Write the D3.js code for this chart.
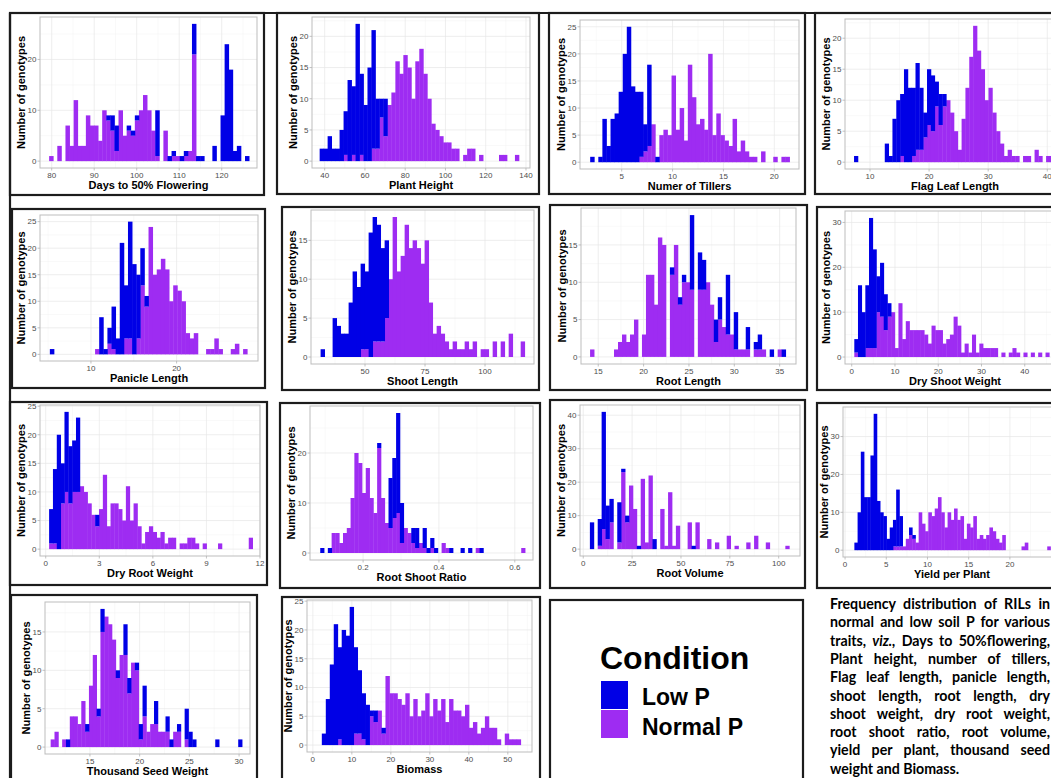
<!DOCTYPE html>
<html>
<head>
<meta charset="utf-8">
<script src="https://cdn.jsdelivr.net/npm/d3@7"></script>
<style>
body { margin: 0; background: #fff; overflow: hidden; }
svg { display: block; font-family: "Liberation Sans", Arial, sans-serif; }
</style>
</head>
<body>
<div id="chart"></div>
<script>

// ---- data: stacked histogram counts (Normal P at bottom, Low P on top) ----

var traitNames = ["Days to 50% Flowering", "Plant Height", "Numer of Tillers", "Flag Leaf Length",
                  "Panicle Length", "Shoot Length", "Root Length", "Dry Shoot Weight",
                  "Dry Root Weight", "Root Shoot Ratio", "Root Volume", "Yield per Plant",
                  "Thousand Seed Weight", "Biomass"];

var binStart = [79.4, 37.5, 1.9, 7.3, 5.2, 31.5, 14.1, 0.6, 0.19, 0.087, 3.4, 1.13, 11.05, 2.3];
var binWidth = [0.96, 1.98, 0.4, 0.65, 0.48, 1.667, 0.44, 0.85, 0.215, 0.01, 2.0, 0.39, 0.385, 1.02];

var xTicks = [[80, 90, 100, 110, 120], [40, 60, 80, 100, 120, 140], [5, 10, 15, 20], [10, 20, 30, 40],
              [10, 20], [50, 75, 100], [15, 20, 25, 30, 35], [0, 10, 20, 30, 40],
              [0, 3, 6, 9, 12], [0.2, 0.4, 0.6], [0, 25, 50, 75, 100], [0, 5, 10, 15, 20],
              [15, 20, 25, 30], [0, 10, 20, 30, 40, 50]];
var yTicks = [[0, 10, 20], [0, 5, 10, 15, 20], [0, 5, 10, 15, 20, 25], [0, 5, 10, 15, 20],
              [0, 5, 10, 15, 20, 25], [0, 5, 10, 15], [0, 5, 10, 15], [0, 10, 20, 30],
              [0, 5, 10, 15, 20, 25], [0, 10, 20], [0, 10, 20, 30, 40], [0, 10, 20, 30],
              [0, 5, 10, 15], [0, 5, 10, 15, 20, 25]];

var normalDays = [1,0,3,0,7,3,12,3,3,9, 7,7,4,10,8,6,2,10,5,6, 5,8,10,13,10,6,1,0,6,0, 1,1,0,1,2,21,0,0,0,0, 0,0,0,0,0,0,0,0,0,0];
var lowDays    = [0,0,0,0,0,0,0,0,0,0, 0,0,0,0,1,3,5,0,0,1, 1,1,0,0,0,0,9,0,0,1, 1,0,1,1,0,6,1,1,0,0, 3,0,9,23,18,2,3,0,1,0];

var normalHeight = [0,0,0,0,0,0,1,0,1,0, 1,0,0,2,2,7,4,9,11,16, 14,17,15,10,16,18,14,10,6,5, 4,3,3,2,2,0,1,2,2,0, 1,0,0,0,0,1,1,0,0,1];
var lowHeight    = [2,2,4,2,2,5,7,13,11,22, 13,9,15,19,8,3,6,0,0,0, 0,0,0,0,0,0,0,0,0,0, 0,0,0,0,0,0,0,0,0,0, 0,0,0,0,0,0,0,0,0,0];

var normalTillers = [0,0,0,0,0,0,0,0,0,0, 0,0,1,2,3,7,0,5,6,5, 16,6,10,4,18,12,7,8,6,20, 5,9,5,4,3,8,2,4,2,1, 1,0,2,0,0,1,0,1,1];
var lowTillers    = [1,0,1,8,3,8,9,13,20,25, 14,13,12,5,15,0,1,0,0,0, 0,0,0,0,0,0,0,0,0,0, 0,0,0,0,0,0,0,0,0,0, 0,0,0,0,0,0,0,0,0];

var normalFlag = [0,0,0,0,0,0,0,0,0,0, 0,0,1,0,0,1,2,2,4,6, 5,9,6,9,10,8,5,2,7,12, 17,22,18,15,10,12,8,5,3,1, 2,1,1,0,1,1,0,2,1,0, 1,1];
var lowFlag    = [1,0,0,0,0,0,0,0,3,1, 7,10,10,15,12,11,14,10,4,9, 9,4,5,2,0,0,0,0,0,0, 0,0,0,0,0,0,0,0,0,0, 0,0,0,0,0,0,0,0,0,0, 0,0];

var normalPanicle = [0,0,0,0,0,0,0,0,0,0, 0,1,0,0,2,1,0,0,3,3, 0,3,13,9,24,15,16,18,16,10, 13,12,10,4,3,4,0,0,1,1, 3,1,0,0,1,2,0,1];
var lowPanicle    = [1,0,0,0,0,0,0,0,0,0, 0,0,7,1,3,8,3,21,10,22, 17,12,7,2,0,0,0,0,0,0, 0,0,0,0,0,0,0,0,0,0, 0,0,0,0,0,0,0,0];

var normalShoot = [0,0,0,0,0,0,0,0,0,0, 1,1,0,2,2,2,5,10,18,11, 13,17,14,15,14,12,15,7,3,4, 3,2,1,2,1,1,2,1,2,0, 1,1,0,2,0,2,0,3,0,0, 2];
var lowShoot    = [1,0,0,5,4,3,3,7,11,9, 11,10,16,16,15,12,10,0,0,0, 0,0,0,0,0,0,0,0,0,0, 0,0,0,0,0,0,0,0,0,0, 0,0,0,0,0,0,0,0,0,0, 0];

var normalRootLen = [1,0,0,0,0,0,1,2,3,2, 3,5,0,3,11,11,7,16,15,0, 11,15,7,10,10,9,0,9,9,10, 7,2,5,4,3,3,1,1,1,1, 0,1,1,1,0,0,0,1,0];
var lowRootLen    = [0,0,0,0,0,0,0,0,0,0, 0,0,0,0,0,0,0,0,0,0, 1,0,1,1,0,10,0,5,4,0, 0,3,3,0,8,0,5,0,0,3, 0,1,2,0,0,1,0,0,1];

var normalDryShoot = [1,0,0,2,2,2,10,9,6,9, 10,2,12,4,8,6,6,6,6,5, 3,7,6,6,3,4,5,9,7,1, 3,1,5,1,3,2,2,2,2,0, 1,0,1,2,1,0,1,0,1,0, 1,0,1,0,1,0,1,0];
var lowDryShoot    = [3,16,10,14,29,22,8,12,8,3, 0,0,0,0,0,0,0,0,0,0, 0,0,0,0,0,0,0,0,0,0, 0,0,0,0,0,0,0,0,0,0, 0,0,0,0,0,0,0,0,0,0, 0,0,0,0,0,0,0,0];

var normalDryRoot = [1,1,0,8,10,8,10,10,11,10, 8,6,4,7,13,4,8,8,7,5, 11,5,8,4,1,3,4,3,2,3, 1,2,2,0,1,1,2,2,1,0, 1,0,0,0,1,0,0,0,0,0, 0,0,2];
var lowDryRoot    = [6,13,20,7,14,10,9,13,0,0, 0,0,2,0,0,0,0,0,0,0, 0,0,0,0,0,0,0,0,0,0, 0,0,0,0,0,0,0,0,0,0, 0,0,0,0,0,0,0,0,0,0, 0,0,0];

var normalRsr = [0,0,0,4,4,2,4,5,11,20, 18,12,17,11,8,21,11,6,5,7, 8,2,5,4,2,1,2,1,0,1, 0,0,2,1,0,0,0,0,0,0, 0,1,0,0,0,0,0,0,0,0, 0,0,0,1];
var lowRsr    = [1,0,1,0,0,0,0,0,0,0, 0,0,0,0,0,1,0,0,10,12, 20,8,0,0,3,4,0,4,1,2, 1,0,0,0,1,0,0,1,0,1, 0,0,1,0,0,0,0,0,0,0, 0,0,0,0];

var normalRootVol = [0,0,1,6,3,8,0,2,23,8, 19,12,0,21,2,22,0,0,12,1, 17,1,7,0,0,8,0,8,0,0, 3,0,2,0,0,4,0,1,0,0, 2,0,4,0,0,2,0,0,0,0, 1];
var lowRootVol    = [8,0,8,35,10,7,0,12,1,2, 0,0,1,0,0,0,3,0,0,0, 0,0,0,0,0,0,1,0,0,0, 0,0,0,0,0,0,0,0,0,0, 0,0,0,0,0,0,0,0,0,0, 0];

var normalYield = [0,0,0,0,0,0,0,0,0,0, 0,0,1,1,1,1,3,4,3,2, 10,7,5,10,9,11,14,10,6,10, 8,11,8,9,3,7,6,9,3,4, 3,4,6,5,3,2,4,0,0,0, 0,0,1,2,0,0,0,0,0,0, 1];
var lowYield    = [2,10,26,14,14,25,36,13,10,9, 3,6,7,15,8,0,0,2,1,0, 0,0,0,0,0,0,0,0,0,0, 0,0,0,0,0,0,0,0,0,0, 0,0,0,0,0,0,0,0,0,0, 0,0,0,0,0,0,0,0,0,0, 0];

var normalTsw = [1,2,0,1,0,4,4,3,6,2, 8,12,4,15,17,16,14,9,12,12, 7,11,10,1,4,2,3,3,2,2, 2,0,2,2,0,1,0,0,0,0, 0,0,0,0,0,0,0,0,0,0];
var lowTsw    = [0,0,0,0,1,0,0,0,0,1, 0,0,1,3,0,0,0,1,0,4, 2,0,1,2,4,0,0,3,0,0, 2,1,0,1,0,4,2,1,0,0, 0,0,0,1,0,0,0,0,0,1];

var normalBio = [0,0,0,0,1,0,0,0,2,2, 1,0,5,4,6,2,12,9,9,8, 7,9,5,8,5,6,9,5,8,6, 8,4,8,6,6,5,7,3,4,2, 3,5,3,3,1,0,2,1,1,1];
var lowBio    = [2,8,14,21,16,20,19,24,15,11, 8,7,1,2,0,1,0,0,0,0, 0,0,0,0,0,0,0,0,0,0, 0,0,0,0,0,0,0,0,0,0, 0,0,0,0,0,0,0,0,0,0];

var normalCounts = [normalDays, normalHeight, normalTillers, normalFlag, normalPanicle, normalShoot, normalRootLen,
                    normalDryShoot, normalDryRoot, normalRsr, normalRootVol, normalYield, normalTsw, normalBio];
var lowCounts = [lowDays, lowHeight, lowTillers, lowFlag, lowPanicle, lowShoot, lowRootLen,
                 lowDryShoot, lowDryRoot, lowRsr, lowRootVol, lowYield, lowTsw, lowBio];

var legendLabels = ["Low P", "Normal P"];

var captionLines = [
    ["Frequency distribution of RILs in"],
    ["normal and low soil P for various"],
    ["traits, ", "viz.,", " Days to 50%flowering,"],
    ["Plant height, number of tillers,"],
    ["Flag leaf length, panicle length,"],
    ["shoot length, root length, dry"],
    ["shoot weight, dry root weight,"],
    ["root shoot ratio, root volume,"],
    ["yield per plant, thousand seed"],
    ["weight and Biomass."]
];

// ---- layout ----

var svg_dx = 1051,
    svg_dy = 778;

var lowColor = "#0000e6",
    normalColor = "#9e2cf2";

// outer frames [x0, y0, x1, y1]
var boxes = [[10,13,264,195], [277,13,539,194], [549,13,805,194], [815,13,1075,194],
             [12,209,265,388], [282,207,539,390], [550,205,807,390], [817,207,1075,390],
             [10,402,267,585], [280,403,540,588], [550,400,805,588], [817,403,1075,588],
             [11,595,257,790], [282,597,540,790]];

// plot panels [x0, y0, x1, y1]
var plotRects = [[40,17,257,168], [312,17,530,168], [580,20,799,169], [845,19,1065,169],
                 [40,215,258,361], [311,210,534,364], [581,208,796,364], [845,211,1065,364],
                 [40,405,260,556], [310,406,533,560], [580,405,800,556], [843,407,1061,557],
                 [45,602,250,754], [307,600,532,752]];

var xDomains = [[77.25,128.3], [33.7,142], [0.9,22.43], [5.77,43], [4.05,29.5], [27.5,120.4], [13.1,36.8],
                [-1.55,49.3], [-0.32,12.0], [0.06,0.648], [-1.66,110.9], [-0.25,26.2], [10.48,31.1], [-1.5,56.2]];

var svg = d3.select("#chart")
            .append("svg")
            .attr("width", svg_dx)
            .attr("height", svg_dy);

svg.append("rect")
   .attr("width", svg_dx)
   .attr("height", svg_dy)
   .attr("fill", "#fff");

function minorBreaks(ticks, domain) {
    var step = ticks[1] - ticks[0], out = [];
    for (var v = ticks[0] - step / 2; v <= domain[1]; v += step) {
        if (v >= domain[0]) out.push(v);
    }
    return out;
}

function drawPanel(k) {
    var r = plotRects[k],
        b = boxes[k],
        normal = normalCounts[k],
        low = lowCounts[k],
        totals = normal.map((d, i) => d + low[i]),
        ymax = d3.max(totals);

    var x = d3.scaleLinear().domain(xDomains[k]).range([r[0], r[2]]),
        y = d3.scaleLinear().domain([-0.05 * ymax, 1.05 * ymax]).range([r[3], r[1]]);

    var g = svg.append("g");

    // frame
    g.append("rect")
     .attr("x", b[0]).attr("y", b[1])
     .attr("width", b[2] - b[0]).attr("height", b[3] - b[1])
     .attr("fill", "#fff")
     .attr("stroke", "#1c1c1c")
     .attr("stroke-width", 2.2);

    // grid
    var grid = g.append("g");
    grid.selectAll(".mx").data(minorBreaks(xTicks[k], x.domain())).enter()
        .append("line")
        .attr("x1", d => x(d)).attr("x2", d => x(d))
        .attr("y1", r[1]).attr("y2", r[3])
        .attr("stroke", "#f3f3f3").attr("stroke-width", 0.5);
    grid.selectAll(".my").data(minorBreaks(yTicks[k], y.domain())).enter()
        .append("line")
        .attr("x1", r[0]).attr("x2", r[2])
        .attr("y1", d => y(d)).attr("y2", d => y(d))
        .attr("stroke", "#f3f3f3").attr("stroke-width", 0.5);
    grid.selectAll(".Mx").data(xTicks[k]).enter()
        .append("line")
        .attr("x1", d => x(d)).attr("x2", d => x(d))
        .attr("y1", r[1]).attr("y2", r[3])
        .attr("stroke", "#e6e6e6").attr("stroke-width", 0.7);
    grid.selectAll(".My").data(yTicks[k]).enter()
        .append("line")
        .attr("x1", r[0]).attr("x2", r[2])
        .attr("y1", d => y(d)).attr("y2", d => y(d))
        .attr("stroke", "#e6e6e6").attr("stroke-width", 0.7);

    // bars
    var bins = normal.map((d, i) => ({
        x0: binStart[k] + i * binWidth[k],
        x1: binStart[k] + (i + 1) * binWidth[k],
        n: d,
        l: low[i]
    }));

    g.append("g").selectAll("rect")
     .data(bins.filter(d => d.n > 0))
     .enter().append("rect")
     .attr("x", d => x(d.x0))
     .attr("width", d => x(d.x1) - x(d.x0) + 0.4)
     .attr("y", d => y(d.n))
     .attr("height", d => y(0) - y(d.n))
     .attr("fill", normalColor);

    g.append("g").selectAll("rect")
     .data(bins.filter(d => d.l > 0))
     .enter().append("rect")
     .attr("x", d => x(d.x0))
     .attr("width", d => x(d.x1) - x(d.x0) + 0.4)
     .attr("y", d => y(d.n + d.l))
     .attr("height", d => y(d.n) - y(d.n + d.l))
     .attr("fill", lowColor);

    // panel border
    g.append("rect")
     .attr("x", r[0]).attr("y", r[1])
     .attr("width", r[2] - r[0]).attr("height", r[3] - r[1])
     .attr("fill", "none")
     .attr("stroke", "#bdbdbd")
     .attr("stroke-width", 1);

    // axes
    var ax = g.append("g").attr("font-size", 8).attr("fill", "#4d4d4d");

    ax.selectAll(".yt").data(yTicks[k]).enter()
      .append("line")
      .attr("x1", r[0] - 2.5).attr("x2", r[0])
      .attr("y1", d => y(d)).attr("y2", d => y(d))
      .attr("stroke", "#b3b3b3").attr("stroke-width", 0.8);
    ax.selectAll(".yl").data(yTicks[k]).enter()
      .append("text")
      .attr("x", r[0] - 3.5)
      .attr("y", d => y(d))
      .attr("dy", "0.35em")
      .attr("text-anchor", "end")
      .text(d => d);

    ax.selectAll(".xt").data(xTicks[k]).enter()
      .append("line")
      .attr("x1", d => x(d)).attr("x2", d => x(d))
      .attr("y1", r[3]).attr("y2", r[3] + 2.5)
      .attr("stroke", "#b3b3b3").attr("stroke-width", 0.8);
    ax.selectAll(".xl").data(xTicks[k]).enter()
      .append("text")
      .attr("x", d => x(d))
      .attr("y", r[3] + 10)
      .attr("text-anchor", "middle")
      .text(d => d);

    g.append("text")
     .attr("x", (r[0] + Math.min(r[2], svg_dx + 15)) / 2)
     .attr("y", r[3] + 21)
     .attr("text-anchor", "middle")
     .style("font-size", "11px")
     .style("font-weight", "bold")
     .text(traitNames[k]);

    g.append("text")
     .attr("transform", "translate(" + (r[0] - 19) + "," + ((r[1] + r[3]) / 2) + ") rotate(-90)")
     .attr("dy", "0.35em")
     .attr("text-anchor", "middle")
     .style("font-size", "11px")
     .style("font-weight", "bold")
     .text("Number of genotypes");
}

for (var k = 0; k < traitNames.length; k++) drawPanel(k);

// outer rules along top and left edge
svg.append("line")
   .attr("x1", 10).attr("x2", svg_dx).attr("y1", 13).attr("y2", 13)
   .attr("stroke", "#1c1c1c").attr("stroke-width", 2.2);
svg.append("line")
   .attr("x1", 10).attr("x2", 10).attr("y1", 13).attr("y2", svg_dy)
   .attr("stroke", "#1c1c1c").attr("stroke-width", 2.2);

// legend
var leg = svg.append("g");
leg.append("rect")
   .attr("x", 550).attr("y", 600).attr("width", 253).attr("height", 190)
   .attr("fill", "#fff").attr("stroke", "#1c1c1c").attr("stroke-width", 2.2);
leg.append("text")
   .attr("x", 600).attr("y", 669)
   .style("font-size", "32px").style("font-weight", "bold")
   .text("Condition");
leg.selectAll(".key").data(legendLabels).enter()
   .append("rect")
   .attr("x", 601).attr("y", (d, i) => 681 + i * 29)
   .attr("width", 27).attr("height", 28)
   .attr("fill", (d, i) => i === 0 ? lowColor : normalColor);
leg.selectAll(".lab").data(legendLabels).enter()
   .append("text")
   .attr("x", 642).attr("y", (d, i) => 705 + i * 30)
   .style("font-size", "23px").style("font-weight", "bold")
   .text(d => d);

// caption, justified by stretching word gaps
var capWidth = 220;
var cap = svg.append("g")
             .style("font-family", "Lato, 'Liberation Sans', sans-serif")
             .style("font-size", "14.2px")
             .style("font-weight", "bold");

captionLines.forEach(function (parts, i) {
    var t = cap.append("text")
               .attr("x", 830)
               .attr("y", 609 + i * 18.3);
    parts.forEach(function (p) {
        t.append("tspan")
         .style("font-style", p === "viz.," ? "italic" : "normal")
         .text(p);
    });
    var w = t.node().getComputedTextLength();
    if (i < captionLines.length - 1) {
        var gaps = parts.join("").split(" ").length - 1;
        t.attr("word-spacing", (capWidth - w) / gaps);
    }
});

</script>
</body>
</html>
